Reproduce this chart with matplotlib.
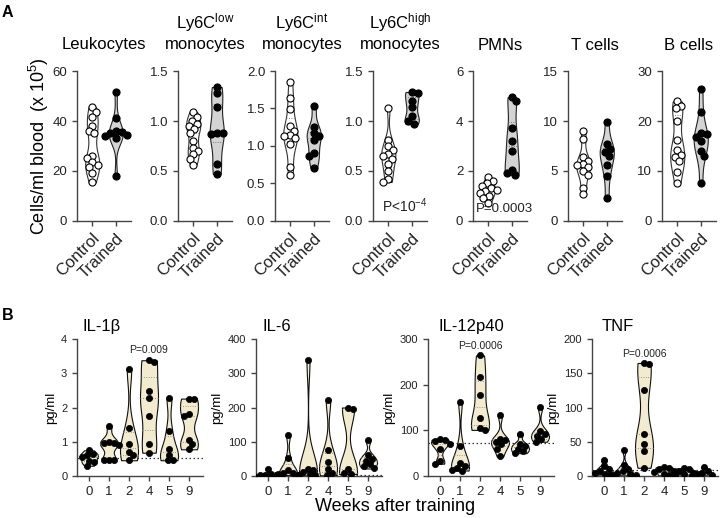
import numpy as np
import matplotlib.pyplot as plt
from matplotlib.mlab import GaussianKDE

plt.rcParams['font.family'] = ['Liberation Sans', 'DejaVu Sans']
plt.rcParams['mathtext.default'] = 'regular'

# ---- panel A : blood cell counts, control vs trained ----
a_titles = [('', 'Leukocytes'), ('Ly6C$^{low}$', 'monocytes'), ('Ly6C$^{int}$', 'monocytes'),
            ('Ly6C$^{high}$', 'monocytes'), ('', 'PMNs'), ('', 'T cells'), ('', 'B cells')]
a_groups = ['Control', 'Trained']
a_ymax = [60, 1.5, 2.0, 1.5, 6, 15, 30]
a_yticks = [[0, 20, 40, 60], [0.0, 0.5, 1.0, 1.5], [0.0, 0.5, 1.0, 1.5, 2.0],
            [0.0, 0.5, 1.0, 1.5], [0, 2, 4, 6], [0, 5, 10, 15], [0, 10, 20, 30]]

leuko_ctrl = [45.5, 43.5, 41.5, 38, 36, 35, 26, 25, 23.5, 22.5, 21.5, 19, 15.5]
leuko_trained = [51.5, 41, 36, 35.5, 35, 34.5, 34, 33, 18]
low_ctrl = [1.09, 1.04, 1.0, 0.97, 0.95, 0.92, 0.88, 0.8, 0.73, 0.7, 0.67, 0.62, 0.56]
low_trained = [1.34, 1.28, 1.14, 0.88, 0.88, 0.87, 0.57, 0.47]
int_ctrl = [1.86, 1.64, 1.49, 1.26, 1.2, 1.15, 1.13, 1.11, 1.02, 0.72, 0.61]
int_trained = [1.53, 1.25, 1.17, 1.13, 1.08, 0.9, 0.86, 0.71]
high_ctrl = [1.13, 0.81, 0.75, 0.71, 0.67, 0.65, 0.62, 0.57, 0.5, 0.42, 0.39]
high_trained = [1.29, 1.28, 1.2, 1.14, 1.05, 1.0, 0.97]
pmn_ctrl = [1.75, 1.6, 1.5, 1.4, 1.3, 1.25, 1.2, 1.1, 1.0, 0.9, 0.72]
pmn_trained = [4.95, 4.8, 3.7, 3.2, 2.8, 2.05, 1.9, 1.85]
t_ctrl = [9.0, 8.2, 6.4, 6.0, 5.7, 5.6, 5.4, 5.0, 4.6, 3.3, 2.7]
t_trained = [9.9, 7.7, 7.2, 6.9, 6.5, 5.6, 4.5, 2.3]
b_ctrl = [23.9, 23.0, 22.5, 20.0, 16.2, 14.2, 13.2, 12.8, 12.0, 9.8, 7.6]
b_trained = [26.5, 21.7, 17.5, 17.3, 16.8, 15.9, 13.9, 12.9, 7.5]

a_data = [(leuko_ctrl, leuko_trained), (low_ctrl, low_trained), (int_ctrl, int_trained),
          (high_ctrl, high_trained), (pmn_ctrl, pmn_trained), (t_ctrl, t_trained),
          (b_ctrl, b_trained)]
a_pvals = {3: 'P<10$^{-4}$', 4: 'P=0.0003'}

# ---- panel B : cytokines over weeks ----
weeks = ['0', '1', '2', '4', '5', '9']
b_titles = ['IL-1β', 'IL-6', 'IL-12p40', 'TNF']
b_ymax = [4, 400, 300, 200]
b_ystep = [1, 100, 100, 50]
b_limit = [0.53, 3, 72, 9]

il1b = [[0.75, 0.65, 0.6, 0.55, 0.45, 0.4, 0.3],
        [1.46, 1.0, 0.97, 0.95, 0.9, 0.47, 0.46, 0.46],
        [3.13, 1.4, 0.92, 0.7, 0.6, 0.46],
        [3.38, 3.33, 2.47, 2.27, 1.75, 0.92, 0.68],
        [2.27, 1.31, 0.78, 0.62, 0.47, 0.46],
        [2.26, 2.24, 1.82, 1.75, 1.06, 0.92, 0.78]]
il6 = [[20, 6, 4, 3, 2, 1, 0],
       [120, 52, 17, 10, 8, 5, 3],
       [340, 20, 18, 12, 5, 3, 2],
       [222, 75, 40, 20, 8, 2],
       [200, 195, 20, 10, 6],
       [105, 60, 50, 45, 35, 30, 22]]
il12 = [[80, 78, 76, 70, 60, 33, 27],
        [163, 65, 28, 22, 18, 14, 12],
        [264, 217, 177, 126, 106, 101],
        [134, 82, 78, 75, 70, 60, 43],
        [93, 71, 66, 60, 55, 50],
        [152, 98, 92, 88, 80, 75]]
tnf = [[23, 14, 10, 8, 5, 3, 2],
       [38, 16, 10, 7, 4, 3, 2, 1],
       [165, 163, 126, 62, 46, 36, 12],
       [13, 12, 10, 8, 6, 3, 1],
       [11, 10, 8, 5, 3, 2],
       [13, 7, 5, 3, 2, 1]]
b_data = [il1b, il6, il12, tnf]
# (panel index, week index, y, text)
b_pvals = [(0, 3, 3.67, 'P=0.009'), (2, 2, 284, 'P=0.0006'), (3, 2, 178, 'P=0.0006')]

W, H = 722, 518
fig = plt.figure(figsize=(W / 100, H / 100), dpi=100)
AX = '#444444'


def box(left, top, width, height):
    return [left / W, 1 - (top + height) / H, width / W, height / H]


def swarm(ax, x0, vals, diam):
    vals = np.asarray(vals, float)
    pts = ax.transData.transform(np.column_stack([np.full(len(vals), x0), vals]))
    ys = pts[:, 1]
    placed = []
    offs = np.zeros(len(vals))
    sign = 1
    for i in np.argsort(-ys):
        cands = [0.0]
        for px, py in placed:
            dy = ys[i] - py
            if abs(dy) < diam:
                dx = np.sqrt(diam ** 2 - dy ** 2)
                cands += [px + dx, px - dx]
        cands = sorted(cands, key=lambda c: (abs(round(c, 3)), -sign * c))
        for c in cands:
            if all((c - px) ** 2 + (ys[i] - py) ** 2 >= diam ** 2 - 1e-6 for px, py in placed):
                break
        if c != 0:
            sign = -sign
        offs[i] = c
        placed.append((c, ys[i]))
    back = ax.transData.inverted().transform(np.column_stack([pts[:, 0] + offs, ys]))
    return back[:, 0]


def violin(ax, x0, vals, half, face, edge, bw=0.45, qcolor='#888888'):
    vals = np.asarray(vals, float)
    kde = GaussianKDE(vals, bw)
    ys = np.linspace(vals.min(), vals.max(), 200)
    d = kde.evaluate(ys)
    d = d / d.max() * half
    ax.fill_betweenx(ys, x0 - d, x0 + d, facecolor=face, edgecolor=edge, lw=0.8, zorder=2)
    for q in np.percentile(vals, [25, 50, 75]):
        w = np.interp(q, ys, d)
        ax.plot([x0 - w, x0 + w], [q, q], ls=(0, (1, 1.5)), color=qcolor, lw=0.7, zorder=2.5)


def style(ax):
    for s in ['top', 'right']:
        ax.spines[s].set_visible(False)
    for s in ['left', 'bottom']:
        ax.spines[s].set_color(AX)
        ax.spines[s].set_linewidth(1.0)
    ax.tick_params(colors=AX, length=3.5, width=1.0, labelcolor='#222222')


# ---- panel A ----
a_lefts = [77, 178, 275, 373, 473, 568, 662]
for k, left in enumerate(a_lefts):
    ax = fig.add_axes(box(left, 71, 54, 150))
    style(ax)
    ax.set_xlim(-0.65, 1.65)
    ax.set_ylim(0, a_ymax[k])
    ax.set_yticks(a_yticks[k])
    if isinstance(a_ymax[k], float):
        ax.set_yticklabels([f'{t:.1f}' for t in a_yticks[k]])
    ax.tick_params(axis='y', labelsize=9.5)
    ax.set_xticks([0, 1])
    ax.set_xticklabels(a_groups, rotation=45, ha='right', rotation_mode='anchor', fontsize=12)
    ctrl, trained = a_data[k]
    violin(ax, 0, ctrl, 0.3, 'white', '#333333')
    violin(ax, 1, trained, 0.3, '#d4d4d4', '#222222', qcolor='#777777')
    ax.scatter(swarm(ax, 0, ctrl, 6), ctrl, s=26, facecolor='white', edgecolor='black',
               lw=0.8, zorder=3)
    ax.scatter(swarm(ax, 1, trained, 6), trained, s=26, facecolor='black', edgecolor='black',
               lw=0.8, zorder=3)
    cx = (left + 27) / W
    fig.text(cx, 1 - 49.5 / H, a_titles[k][1], ha='center', va='baseline', fontsize=12)
    if a_titles[k][0]:
        fig.text(cx, 1 - 28 / H, a_titles[k][0], ha='center', va='baseline', fontsize=12)
    if k in a_pvals:
        ax.text(0.06 if k == 4 else 0.17, 0.04, a_pvals[k], transform=ax.transAxes,
                fontsize=10 if k == 3 else 9.5, color='#222222', va='bottom', zorder=4)

fig.text(39 / W, 1 - 146 / H, 'Cells/ml blood  (x 10$^{5}$)', rotation=90,
         ha='center', va='center', fontsize=13)
fig.text(2 / W, 1 - 17 / H, 'A', fontsize=11.5, fontweight='bold', va='baseline')

# ---- panel B ----
b_lefts = [77, 256, 428, 592]
b_title_x = [83, 263, 438, 602]
b_axes = []
for k, left in enumerate(b_lefts):
    ax = fig.add_axes(box(left, 339, 126, 137))
    style(ax)
    b_axes.append(ax)
    ax.set_xlim(-0.6, 5.7)
    ax.set_ylim(0, b_ymax[k])
    ax.set_yticks(np.arange(0, b_ymax[k] + 1e-9, b_ystep[k]))
    ax.tick_params(axis='y', labelsize=8)
    ax.set_xticks(range(len(weeks)))
    ax.set_xticklabels(weeks, fontsize=9.5)
    ax.set_ylabel('pg/ml', fontsize=9.5, labelpad=3)
    ax.axhline(b_limit[k], ls=(0, (1.2, 2)), color='#333333', lw=0.9, zorder=1)
    for i, vals in enumerate(b_data[k]):
        violin(ax, i, vals, 0.45, '#f3ebcf', '#111111', qcolor='#999988')
        ax.scatter(swarm(ax, i, vals, 5.5), vals, s=20, facecolor='black',
                   edgecolor='black', lw=0.5, zorder=3)
    fig.text(b_title_x[k] / W, 1 - 331 / H, b_titles[k], ha='left', va='baseline', fontsize=12)

for k, i, y, txt in b_pvals:
    b_axes[k].text(i, y, txt, ha='center', va='center', fontsize=7.5, color='#222222')

fig.text(395 / W, 1 - 511 / H, 'Weeks after training', ha='center', va='baseline', fontsize=13)
fig.text(2 / W, 1 - 320 / H, 'B', fontsize=11.5, fontweight='bold', va='baseline')

fig.savefig('out.png', dpi=100)
